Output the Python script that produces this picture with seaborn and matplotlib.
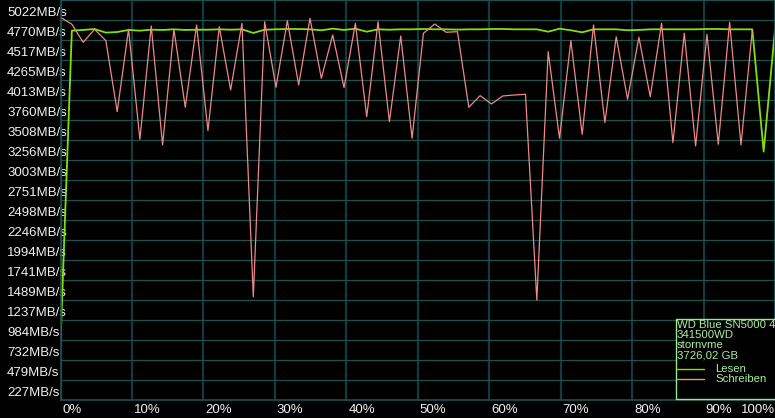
import matplotlib

matplotlib.use("Agg")
import matplotlib.patches as mpatches
import matplotlib.pyplot as plt
import matplotlib.transforms as mtransforms
import numpy as np
import pandas as pd
import seaborn as sns

# read / write throughput in MB/s, one value per measuring step
lesen = [842, 4783, 4792, 4804, 4758, 4766, 4792, 4783, 4795, 4792, 4800, 4792,
         4795, 4795, 4800, 4795, 4800, 4754, 4795, 4800, 4804, 4804, 4800, 4788,
         4808, 4792, 4808, 4770, 4800, 4795, 4800, 4800, 4804, 4800, 4800, 4796,
         4800, 4800, 4804, 4804, 4800, 4800, 4800, 4770, 4808, 4788, 4762, 4800,
         4800, 4800, 4788, 4792, 4800, 4800, 4800, 4800, 4800, 4804, 4804, 4800,
         4800, 4800, 3256, 4796]
schreiben = [4952, 4864, 4636, 4800, 4657, 3761, 4800, 3412, 4842, 3340, 4800,
             3816, 4855, 3521, 4833, 4034, 4876, 1426, 4896, 4069, 4909, 4098,
             4939, 4182, 4729, 4064, 4876, 3698, 4896, 3634, 4716, 3425, 4750,
             4867, 4763, 4770, 3816, 3963, 3858, 3959, 3971, 3980, 1384, 4518,
             3425, 4657, 3475, 4855, 3622, 4707, 3917, 4700, 3950, 4876, 3369,
             4750, 3328, 4737, 3349, 4889, 3340, 4792]
y_ticks = [227, 479, 732, 984, 1237, 1489, 1741, 1994, 2246, 2498, 2751, 3003,
           3256, 3508, 3760, 4013, 4265, 4517, 4770, 5022]
x_labels = ["0%", "10%", "20%", "30%", "40%", "50%", "60%", "70%", "80%",
            "90%", "100%"]
drive_info = "WD Blue SN5000 4TB\n341500WD\nstornvme\n3726,02 GB"

n_steps = len(lesen) - 1
df = pd.concat([
    pd.DataFrame({"Schritt": range(len(lesen)), "MB/s": lesen, "Test": "Lesen"}),
    pd.DataFrame({"Schritt": range(len(schreiben)), "MB/s": schreiben,
                  "Test": "Schreiben"}),
], ignore_index=True)

sns.set_theme(style="dark", rc={"axes.facecolor": "black",
                                "figure.facecolor": "black"})
plt.rcParams["font.family"] = ["Liberation Sans", "DejaVu Sans"]

W, H = 775, 418
fig = plt.figure(figsize=(W / 100, H / 100), dpi=100)
ax = fig.add_axes([60.5 / W, 18 / H, 714.5 / W, 400 / H])

colors = {"Lesen": "#80e010", "Schreiben": "#f08888"}
sns.lineplot(data=df[df.Test == "Lesen"], x="Schritt", y="MB/s",
             color=colors["Lesen"], lw=1.3, ax=ax, label="Lesen")
sns.lineplot(data=df[df.Test == "Schreiben"], x="Schritt", y="MB/s",
             color=colors["Schreiben"], lw=0.9, ax=ax, label="Schreiben")

ax.set_xlim(0, n_steps)
ax.set_ylim(122, 5170)
ax.set_xlabel("")
ax.set_ylabel("")

# grid
xt = np.linspace(0, n_steps, len(x_labels))
for x in xt:
    ax.axvline(x, color="#123c3c", lw=1.6, zorder=0)
for y in np.linspace(122, 5170, 21):
    ax.axhline(y, color="#1d5150", lw=0.9, zorder=0)
for s in ax.spines.values():
    s.set_color("#1d5150")
    s.set_linewidth(1.2)

ax.set_yticks(y_ticks)
ax.set_yticklabels([f"{v}MB/s" for v in y_ticks])
ax.tick_params(axis="y", length=0, pad=38.5, labelsize=9.5, labelcolor="#f2f2f2")
for lab in ax.get_yticklabels():
    lab.set_ha("left")

ax.set_xticks(xt)
ax.set_xticklabels(x_labels)
ax.tick_params(axis="x", length=0, pad=3, labelsize=9.5, labelcolor="#f2f2f2")
offset = mtransforms.ScaledTranslation(2 / 100, 0, fig.dpi_scale_trans)
for i, lab in enumerate(ax.get_xticklabels()):
    if i == len(x_labels) - 1:
        lab.set_ha("right")
    else:
        lab.set_ha("left")
        lab.set_transform(lab.get_transform() + offset)

# info box (cut off at the right edge like the original)
handles, labels = ax.get_legend_handles_labels()
ax.get_legend().remove()
fig.add_artist(mpatches.Rectangle((675.5 / W, (H - 398.5) / H),
                                  (W + 10 - 675.5) / W, 79.5 / H,
                                  transform=fig.transFigure, facecolor="black",
                                  edgecolor="#98e890", lw=1.0, zorder=2))
fig.text(677 / W, 1 - 319.5 / H, drive_info, ha="left", va="top",
         fontsize=8.2, color="#a8f0a0", linespacing=1.05, zorder=3)
leg = fig.legend(handles, labels, loc="upper left",
                 bbox_to_anchor=(677 / W, 1 - 364.5 / H), frameon=False,
                 fontsize=8.2, borderpad=0, labelspacing=0.0, handlelength=2.35,
                 handletextpad=1.0, borderaxespad=0)
for t in leg.get_texts():
    t.set_color("#a8f0a0")
for h in leg.get_lines():
    h.set_linewidth(1.0)

fig.savefig("out.png", dpi=100, facecolor="black")
